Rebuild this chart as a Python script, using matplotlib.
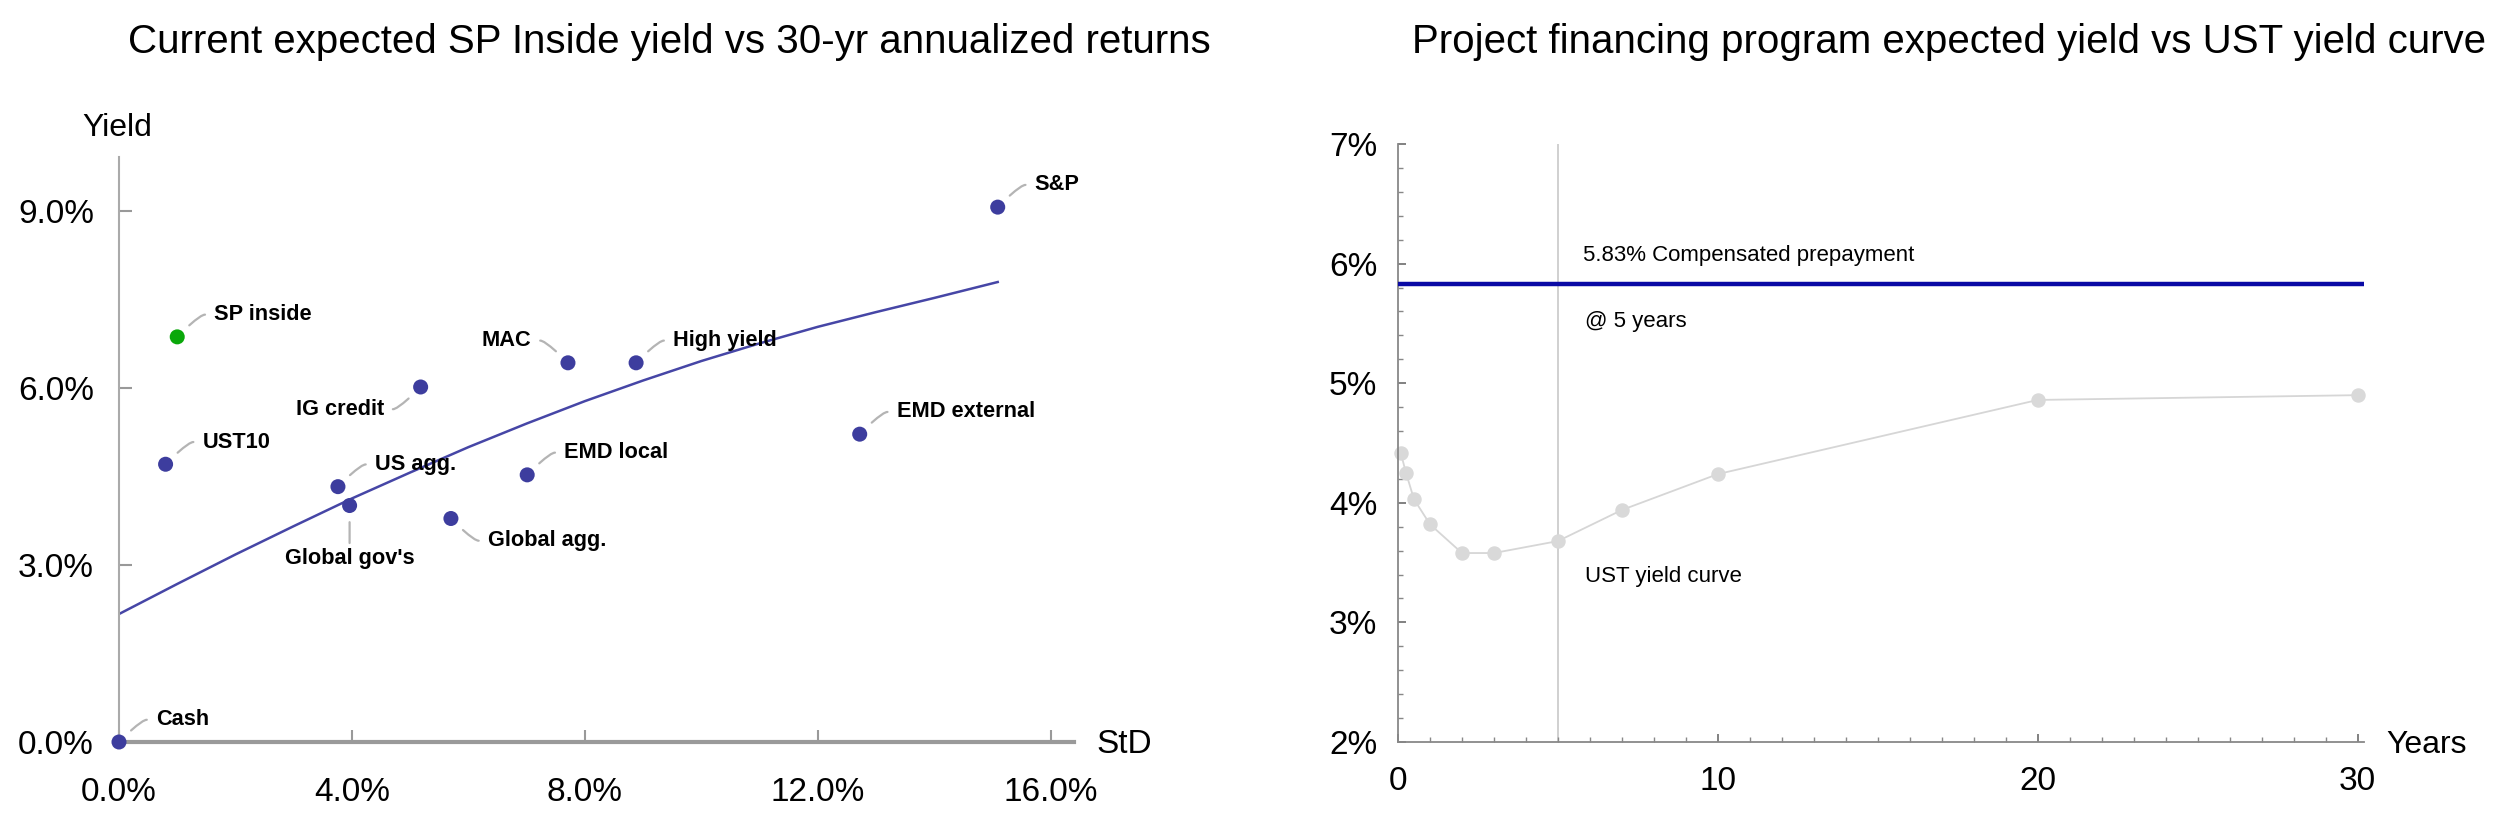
"""Two-panel chart: asset yields vs volatility, and a financing yield vs the UST curve."""
import numpy as np
import matplotlib.pyplot as plt
from matplotlib.ticker import PercentFormatter, MultipleLocator

plt.rcParams['font.family'] = ['Liberation Sans', 'DejaVu Sans']

# left panel: asset classes, 30-yr annualised StD (%) and expected yield (%)
assets = ['Cash', 'UST10', 'SP inside', 'US agg.', "Global gov's", 'IG credit',
          'Global agg.', 'EMD local', 'MAC', 'High yield', 'EMD external', 'S&P']
std = [0.0, 0.80, 1.00, 3.76, 3.96, 5.18, 5.70, 7.01, 7.71, 8.88, 12.72, 15.09]
yld = [0.0, 4.71, 6.87, 4.33, 4.01, 6.02, 3.79, 4.53, 6.43, 6.43, 5.22, 9.07]

# fitted curve
fit_std = [0.0, 1.0, 2.0, 3.0, 4.0, 5.0, 6.0, 7.0, 8.0, 9.0, 10.0,
           11.0, 12.0, 13.0, 14.0, 15.09]
fit_yld = [2.17, 2.68, 3.18, 3.66, 4.13, 4.57, 5.00, 5.40, 5.78, 6.13, 6.46,
           6.76, 7.04, 7.29, 7.53, 7.80]

# right panel: UST yield curve (years, %) and the programme yield
maturities = [1 / 12, 0.25, 0.5, 1, 2, 3, 5, 7, 10, 20, 30]
ust_yield = [4.42, 4.25, 4.03, 3.82, 3.58, 3.58, 3.68, 3.94, 4.24, 4.86, 4.90]
prepay_yield = 5.83
prepay_years = 5

W, H = 2500, 817
fig = plt.figure(figsize=(W / 100, H / 100), dpi=100)

# ---------------- left panel ----------------
ax = fig.add_axes([119 / W, 1 - 742 / H, (1074 - 119) / W, (742 - 157) / H])
ax.set_xlim(0, 16.4)
ax.set_ylim(0, 9.92)
for s in ['top', 'right']:
    ax.spines[s].set_visible(False)
ax.spines['left'].set_color('#aaaaaa')
ax.spines['left'].set_linewidth(1.5)
ax.spines['bottom'].set_color('#9a9a9a')
ax.spines['bottom'].set_linewidth(3)

ax.plot(fit_std, fit_yld, color='#4646a6', lw=1.8, zorder=2)

colors = ['#0aa80a' if a == 'SP inside' else '#3d3d9e' for a in assets]
ax.scatter(std, yld, s=117, c=colors, zorder=3, clip_on=False, linewidths=0)

ax.set_xticks([0, 4, 8, 12, 16])
ax.set_yticks([0, 3, 6, 9])
ax.xaxis.set_major_formatter(PercentFormatter(100, decimals=1))
ax.yaxis.set_major_formatter(PercentFormatter(100, decimals=1))
ax.tick_params(direction='in', length=9, width=1.5, color='#999999', labelsize=24)
ax.tick_params(axis='x', pad=25)
ax.tick_params(axis='y', pad=18)

# label placement: u/d = above/below, l/r = left/right of the point
sides = {'Cash': 'ur', 'UST10': 'ur', 'SP inside': 'ur', 'US agg.': 'ur',
         "Global gov's": 'down', 'IG credit': 'dl', 'Global agg.': 'dr',
         'EMD local': 'ur', 'MAC': 'ul', 'High yield': 'ur',
         'EMD external': 'ur', 'S&P': 'ur'}
lead_col = '#b4b4b4'
for name, x, y in zip(assets, std, yld):
    side = sides[name]
    if side == 'down':
        ax.annotate('', xy=(x, y), xytext=(0, -27), textcoords='offset points',
                    arrowprops=dict(arrowstyle='-', color=lead_col, lw=1.6,
                                    shrinkA=0, shrinkB=12))
        ax.annotate(name, xy=(x, y), xytext=(0, -38), textcoords='offset points',
                    ha='center', va='center', fontsize=15.7, fontweight='bold')
        continue
    sx = 1 if 'r' in side else -1
    sy = 1 if 'u' in side else -1
    ax.annotate('', xy=(x, y), xytext=(sx * 20, sy * 16), textcoords='offset points',
                arrowprops=dict(arrowstyle='-', color=lead_col, lw=1.6,
                                shrinkA=0, shrinkB=12,
                                connectionstyle=f'angle3,angleA=0,angleB={sx * sy * 45}'))
    ax.annotate(name, xy=(x, y), xytext=(sx * 26.5, sy * 16), textcoords='offset points',
                ha='left' if sx > 0 else 'right', va='center',
                fontsize=15.7, fontweight='bold')

fig.text(82 / W, 1 - 136 / H, 'Yield', fontsize=23, va='baseline')
fig.text(1096 / W, 1 - 753 / H, 'StD', fontsize=24, va='baseline')
fig.text(128 / W, 1 - 53 / H, 'Current expected SP Inside yield vs 30-yr annualized returns',
         fontsize=29, va='baseline')

# ---------------- right panel ----------------
ax2 = fig.add_axes([1398 / W, 1 - 742 / H, (2364 - 1398) / W, (742 - 144) / H])
ax2.set_xlim(0, 30.2)
ax2.set_ylim(2, 7)
for s in ['top', 'right']:
    ax2.spines[s].set_visible(False)
for s in ['left', 'bottom']:
    ax2.spines[s].set_color('#888888')
    ax2.spines[s].set_linewidth(1.3)

ax2.axvline(prepay_years, color='#c8c8c8', lw=1.2, zorder=1)
ax2.axhline(prepay_yield, color='#0a0aa5', lw=3.2, zorder=3)
ax2.plot(maturities, ust_yield, color='#d6d6d6', lw=1.3, marker='o', ms=9.4,
         mfc='#d9d9d9', mec='#d9d9d9', zorder=2, clip_on=False)

ax2.text(5.77, 6.07, f'{prepay_yield:.2f}% Compensated prepayment', fontsize=16, va='center')
ax2.text(5.85, 5.52, f'@ {prepay_years} years', fontsize=16, va='center')
ax2.text(5.84, 3.38, 'UST yield curve', fontsize=16, va='center')

ax2.set_xticks([0, 10, 20, 30])
ax2.xaxis.set_minor_locator(MultipleLocator(1))
ax2.yaxis.set_major_locator(MultipleLocator(1))
ax2.yaxis.set_minor_locator(MultipleLocator(0.2))
ax2.yaxis.set_major_formatter(PercentFormatter(100, decimals=0))
ax2.tick_params(which='major', direction='in', length=6, width=1.3, color='#777777',
                labelsize=24)
ax2.tick_params(which='minor', direction='in', length=3.5, width=1, color='#888888')
ax2.tick_params(axis='x', pad=17)
ax2.tick_params(axis='y', pad=15)

fig.text(2386 / W, 1 - 753 / H, 'Years', fontsize=23, va='baseline')
fig.text(1412 / W, 1 - 53 / H, 'Project financing program expected yield vs UST yield curve',
         fontsize=29, va='baseline')

fig.savefig('out.png', dpi=100)
